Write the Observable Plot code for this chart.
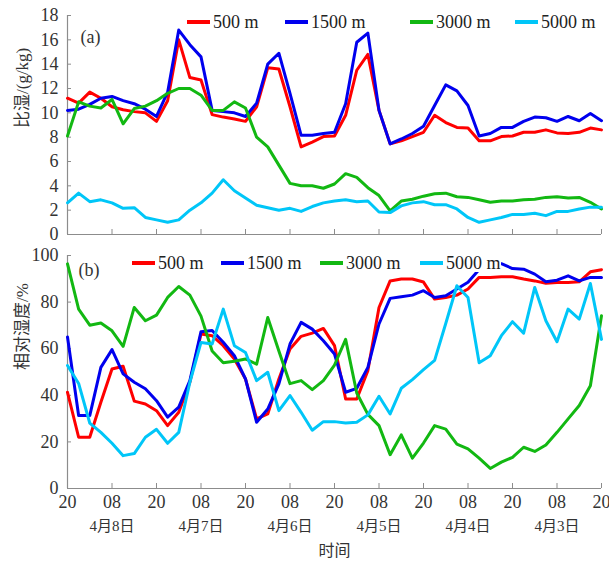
<!DOCTYPE html>
<html><head><meta charset="utf-8">
<script src="https://cdn.jsdelivr.net/npm/d3@7"></script>
<script src="https://cdn.jsdelivr.net/npm/@observablehq/plot@0.6"></script>
<style>
body{margin:0;background:#fff;}
#chart{position:relative;width:609px;height:566px;overflow:hidden;}
.panel{position:absolute;left:0;}
.item{position:absolute;display:flex;align-items:center;background:#fff;height:18px;font-family:"Liberation Serif","Noto Sans CJK SC",serif;font-size:18px;color:#222;white-space:nowrap;transform:translateY(-50%);}
.sw{display:inline-block;width:23px;height:3.5px;margin-right:3px;}
</style></head><body><div id="chart"></div>
<script>
// sample times (hours from start), every 3 h
const hours = d3.range(0, 145, 3);
const xTickHours = [0,12,24,36,48,60,72,84,96,108,120,132,144];
const xTickLabels = ["20","08","20","08","20","08","20","08","20","08","20","08","20"];
const dateHours = [12,36,60,84,108,132];
const dateLabels = ["4月8日","4月7日","4月6日","4月5日","4月4日","4月3日"];
const seriesNames = ["500 m","1500 m","3000 m","5000 m"];
const seriesColors = ["#ff0000","#0000ee","#12b812","#00c6f8"];

// (a) 比湿 g/kg
const q500 = [11.2,10.8,11.7,11.2,10.5,10.25,10.1,10.0,9.3,11.0,16.0,12.9,12.7,9.85,9.65,9.5,9.3,
  10.5,13.7,13.6,10.5,7.2,7.6,8.05,8.1,9.8,13.5,14.8,10.2,7.45,7.7,8.05,8.4,
  9.8,9.2,8.8,8.75,7.7,7.7,8.05,8.1,8.4,8.4,8.6,8.35,8.3,8.4,8.75,8.6];
const q1500 = [10.2,10.3,10.7,11.2,11.35,11.0,10.75,10.3,9.7,11.7,16.8,15.6,14.6,10.2,10.1,10.0,9.7,
  10.8,14.0,14.9,11.6,8.15,8.15,8.3,8.4,10.75,15.8,16.55,10.2,7.45,7.85,8.3,8.9,
  10.6,12.3,11.8,10.6,8.1,8.3,8.8,8.8,9.3,9.65,9.6,9.3,9.7,9.35,9.95,9.35];
const q3000 = [8.1,10.9,10.55,10.4,11.1,9.1,10.35,10.55,11.0,11.6,12.0,12.0,11.45,10.2,10.2,10.9,10.4,
  8.0,7.2,5.7,4.2,4.0,4.0,3.8,4.15,5.0,4.7,3.85,3.2,1.95,2.75,2.9,3.15,
  3.35,3.4,3.1,3.05,2.85,2.65,2.75,2.75,2.85,2.9,3.05,3.1,3.0,3.05,2.65,2.1];
const q5000 = [2.6,3.4,2.7,2.85,2.6,2.15,2.2,1.4,1.2,1.0,1.2,2.0,2.6,3.4,4.5,3.6,3.0,
  2.4,2.2,2.0,2.15,1.9,2.3,2.6,2.75,2.85,2.7,2.75,1.85,1.8,2.35,2.6,2.7,
  2.45,2.45,2.1,1.4,1.0,1.2,1.4,1.65,1.65,1.75,1.55,1.9,1.9,2.1,2.25,2.25];

// (b) 相对湿度 %
const rh500 = [41.3,22,22,37,51.3,52.5,37.5,36.3,33.4,27,32.7,45.6,66.3,65.6,61.3,55.6,47,
  29.9,32,47,59.9,65.3,66.7,68.7,61.3,38.4,38.4,50.6,77.7,89.1,89.9,89.9,88.6,
  81.3,82,83,85.6,90.6,90.6,90.9,90.9,89.9,89.1,88.1,88.4,88.4,88.7,93,93.9];
const rh1500 = [65,31.3,31.3,52,59.6,49.2,45.6,42.8,37.7,30.6,34.9,46.3,67.3,67.8,62.8,57,47,
  28.4,34.1,44.9,62,71.3,68.4,63.4,57.7,41.3,43,52,70.6,81.6,82.3,83,84.9,
  82,82.7,85.6,88.5,94,97,96.5,94.4,94.1,92,88.7,89.4,91.3,89.1,90.6,90.6];
const rh3000 = [96.4,77,70.1,71,67.7,61,77.7,72,74.4,82,86.7,83,74,59,54,54.6,55.6,
  53.4,73.4,59,45,46.3,42.4,46.3,53,64,41,31.8,27,14.5,23,13,19.5,
  27,25.5,19,17,13,8.6,11.3,13.4,17.7,15.9,18.7,24.1,29.9,35.6,44.1,74.1];
const rh5000 = [52.8,45.1,28.1,24.1,19.4,14.1,15,22,25.4,19.4,24.1,45.6,62.7,62,77,61.3,58.4,
  46.3,49.9,33.4,39.9,32.7,25,28.7,28.7,28.1,28.4,31.6,39.6,32,43,46.7,51,
  55,70.8,87,82,54,57,65.6,71.6,66.7,86.3,72,63,77,72.7,88,64];

const yTicksA = [0,2,4,6,8,10,12,14,16,18];
const yTicksB = [0,20,40,60,80,100];

const axisColor = "#8c8c8c";
const textColor = "#333";
const serif = "'Liberation Serif','Noto Sans CJK SC',serif";

function makePanel({values, yDomain, yTicks, height, marginTop, marginBottom, tag, yLabel, showX, tagDy, tagDx, labelDy}) {
  const rows = [];
  values.forEach((vals, s) => vals.forEach((v, i) => rows.push({h: hours[i], v, s})));
  const marks = [
    Plot.ruleX([0], {stroke: axisColor, strokeWidth: 1.2}),
    Plot.ruleY([yDomain[0]], {stroke: axisColor, strokeWidth: 1.2}),
    Plot.axisY({ticks: yTicks, tickSize: -4, fill: "none", stroke: axisColor, label: null}),
    Plot.axisY({ticks: yTicks, tickSize: 0, tickPadding: 9, fill: textColor, fontSize: 18, fontFamily: serif, label: null}),
    Plot.axisX({ticks: xTickHours, tickSize: -5, fill: "none", stroke: axisColor, label: null}),
    ...values.map((vals, s) => Plot.line(rows.filter(r => r.s === s), {x: "h", y: "v", stroke: seriesColors[s], strokeWidth: 3})),
    Plot.text([tag], {frameAnchor: "top-left", dx: tagDx, dy: tagDy, textAnchor: "start", fontSize: 18, fontFamily: serif, fill: textColor}),
    Plot.text([yLabel], {frameAnchor: "left", dx: -45, dy: labelDy, rotate: -90, fontSize: 17, fontFamily: serif, fill: textColor, letterSpacing: 1})
  ];
  if (showX) {
    marks.push(
      Plot.axisX({ticks: xTickHours, tickSize: 0, tickPadding: 7, fill: textColor, fontSize: 18, fontFamily: serif, label: null,
        tickFormat: d => xTickLabels[xTickHours.indexOf(d)]}),
      Plot.axisX({ticks: dateHours, tickSize: 0, tickPadding: 32, fill: textColor, fontSize: 15, fontFamily: serif, label: null,
        tickFormat: d => dateLabels[dateHours.indexOf(d)]}),
      Plot.text(["时间"], {frameAnchor: "bottom", dy: 67, fontSize: 16, fontFamily: serif, fill: textColor})
    );
  } else {
    marks.push(Plot.axisX({ticks: [], label: null}));
  }
  return Plot.plot({
    width: 609, height, marginLeft: 67, marginRight: 8, marginTop, marginBottom,
    x: {domain: [0, 144]},
    y: {domain: yDomain},
    style: {background: "transparent", fontFamily: serif, overflow: "visible"},
    marks
  });
}

const chart = document.getElementById("chart");
const pa = makePanel({values: [q500, q1500, q3000, q5000], yDomain: [0, 18], yTicks: yTicksA, height: 240,
  marginTop: 15, marginBottom: 6, tag: "(a)", yLabel: "比湿/(g/kg)", showX: false, tagDx: 13, tagDy: 15, labelDy: 3});
pa.classList.add("panel"); pa.style.top = "0px";
const pb = makePanel({values: [rh500, rh1500, rh3000, rh5000], yDomain: [0, 100], yTicks: yTicksB, height: 326,
  marginTop: 15, marginBottom: 78, tag: "(b)", yLabel: "相对湿度/%", showX: true, tagDx: 11, tagDy: 8, labelDy: -2});
pb.classList.add("panel"); pb.style.top = "240px";
chart.appendChild(pa);
chart.appendChild(pb);

// legends (layout positions in px)
function legend(lefts, cy) {
  seriesNames.forEach((name, i) => {
    const d = document.createElement("div");
    d.className = "item";
    d.style.left = lefts[i] + "px";
    d.style.top = cy + "px";
    const sw = document.createElement("span");
    sw.className = "sw";
    sw.style.background = seriesColors[i];
    d.appendChild(sw);
    d.appendChild(document.createTextNode(name));
    chart.appendChild(d);
  });
}
legend([187, 285, 410, 515], 22);
legend([132, 221, 320, 420], 263);
</script></body></html>
